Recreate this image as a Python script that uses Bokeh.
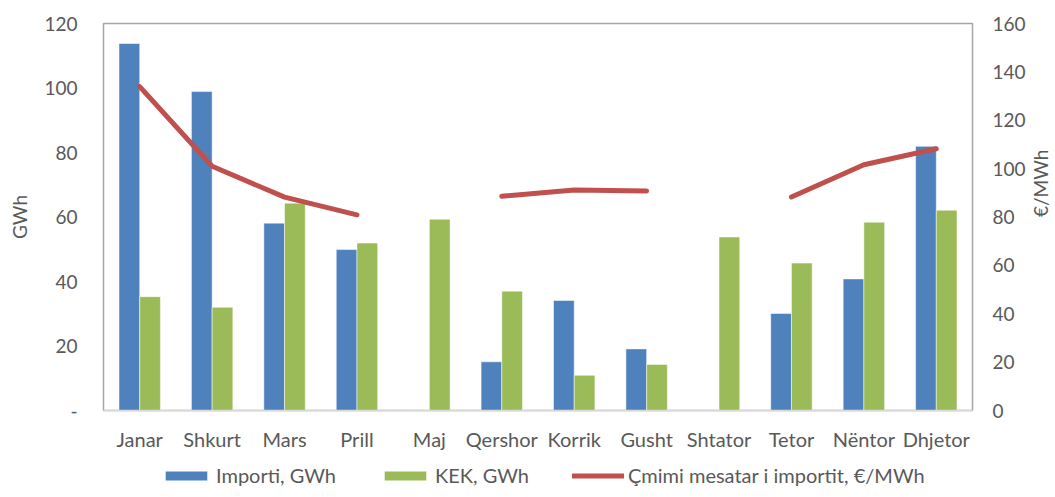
import math
from bokeh.plotting import figure
from bokeh.layouts import column
from bokeh.models import (Range1d, LinearAxis, FixedTicker, Legend, LegendItem, FactorRange)
from bokeh.transform import dodge
from bokeh.embed import file_html
from bokeh.resources import INLINE
import numpy as np

months = ["Janar", "Shkurt", "Mars", "Prill", "Maj", "Qershor", "Korrik",
          "Gusht", "Shtator", "Tetor", "Nëntor", "Dhjetor"]
importi = [113.8, 98.9, 58.1, 49.9, np.nan, 15.1, 34.1, 19.1, np.nan, 30.1, 40.8, 81.9]
kek = [35.3, 32.0, 64.3, 51.9, 59.3, 37.0, 10.9, 14.3, 53.8, 45.7, 58.4, 62.1]
cmimi = [133.9, 101.0, 88.2, 80.9, np.nan, 88.6, 91.2, 90.8, np.nan, 88.3, 101.6, 108.2]

left_ticks = [0, 20, 40, 60, 80, 100, 120]
right_ticks = [0, 20, 40, 60, 80, 100, 120, 140, 160]
series_names = ["Importi, GWh", "KEK, GWh", "Çmimi mesatar i importit, €/MWh"]

FONT = "Lato"
TXT = "#595959"
BLUE = "#4F81BD"
GREEN = "#9BBB59"
RED = "#C0504D"
FS = "19px"

p = figure(frame_width=869, frame_height=387, x_range=FactorRange(factors=months),
           y_range=Range1d(0, 120), output_backend="svg", toolbar_location=None,
           min_border_left=103, min_border_right=75, min_border_top=23, min_border_bottom=0)
p.extra_y_ranges = {"right": Range1d(0, 160)}
p.x_range.range_padding = 0

src = dict(m=months, imp=importi, kek=kek, c=cmimi)
p.vbar(x=dodge("m", -0.143, range=p.x_range), top="imp", width=0.286, source=src,
       fill_color=BLUE, line_color="#FFFFFF", line_width=0.5)
p.vbar(x=dodge("m", 0.143, range=p.x_range), top="kek", width=0.286, source=src,
       fill_color=GREEN, line_color="#FFFFFF", line_width=0.5)
p.line(x="m", y="c", source=src, y_range_name="right", line_color=RED,
       line_width=5, line_cap="round", line_join="round")

p.xgrid.visible = False
p.ygrid.visible = False
p.outline_line_color = "#A6A6A6"
p.outline_line_width = 1.5

# left axis
ya = p.yaxis[0]
ya.ticker = FixedTicker(ticks=left_ticks)
ya.major_label_overrides = {0: "-"}
ya.axis_label = "GWh"
ya.major_label_standoff = 26
ya.axis_label_standoff = 10

# right axis
ra = LinearAxis(y_range_name="right", ticker=FixedTicker(ticks=right_ticks))
ra.major_label_standoff = 20
ra.axis_label = "€/MWh"
ra.axis_label_standoff = 12
try:
    ra.axis_label_orientation = math.pi / 2
except Exception:
    pass
p.add_layout(ra, "right")

# x axis
xa = p.xaxis[0]
xa.axis_line_color = "#D9D9D9"
xa.axis_line_width = 1.5
xa.major_label_standoff = 16

for ax in [ya, ra, xa]:
    if ax is not xa:
        ax.axis_line_color = None
    ax.major_tick_line_color = None
    ax.minor_tick_line_color = None
    ax.major_tick_out = 0
    ax.major_tick_in = 0
    ax.minor_tick_out = 0
    ax.minor_tick_in = 0
    ax.major_label_text_font = FONT
    ax.major_label_text_font_size = FS
    ax.major_label_text_color = TXT
    ax.axis_label_text_font = FONT
    ax.axis_label_text_font_size = FS
    ax.axis_label_text_font_style = "normal"
    ax.axis_label_text_color = TXT
xa.major_label_text_font_size = "20px"

# legend strip below the chart (swatches use the same colours as the series)
lf = figure(frame_width=869, frame_height=48, x_range=Range1d(0, 1), y_range=Range1d(0, 1),
            output_backend="svg", toolbar_location=None,
            min_border_left=103, min_border_right=75, min_border_top=0, min_border_bottom=0,
            x_axis_location=None, y_axis_location=None)
lf.outline_line_color = None
lf.xgrid.visible = False
lf.ygrid.visible = False
g1 = lf.vbar(x=[-10], top=[-9], bottom=-10, width=0.1, fill_color=BLUE, line_color=None)
g2 = lf.vbar(x=[-10], top=[-9], bottom=-10, width=0.1, fill_color=GREEN, line_color=None)
g3 = lf.line(x=[-10, -9], y=[-10, -10], line_color=RED, line_width=5, line_cap="round")
legend = Legend(items=[LegendItem(label=series_names[0], renderers=[g1]),
                       LegendItem(label=series_names[1], renderers=[g2]),
                       LegendItem(label=series_names[2], renderers=[g3])],
                orientation="horizontal", location=(57, 14),
                glyph_width=52, glyph_height=11, label_standoff=4, spacing=43,
                padding=0, margin=0, border_line_color=None, background_fill_alpha=0,
                label_text_font=FONT, label_text_font_size="20px", label_text_color=TXT,
                label_height=22)
lf.add_layout(legend, "center")

layout = column(p, lf, spacing=0)
open("out.html", "w").write(file_html(layout, INLINE))
